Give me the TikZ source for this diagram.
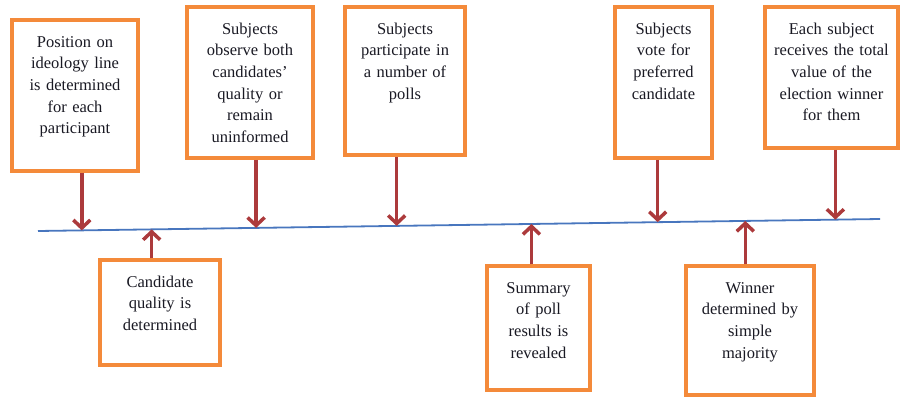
\documentclass[tikz,border=0pt]{standalone}
\usepackage{fontspec}
\setmainfont{Liberation Serif}
\usetikzlibrary{calc, positioning, arrows.meta}
\definecolor{boxorange}{RGB}{244,138,58}
\definecolor{arrowred}{RGB}{172,58,60}
\definecolor{lineblue}{RGB}{72,118,190}
\definecolor{textdark}{RGB}{25,25,35}

\tikzset{
  evbox/.style={draw=boxorange, line width=3.5pt, fill=white, align=center,
    inner xsep=4pt, inner ysep=16pt, text height=11pt, text=textdark,
    font=\fontsize{16.5}{21.7}\selectfont},
  evarrow/.style={draw=arrowred, line width=3.5pt,
    -{Straight Barb[length=8pt,width=17pt]}},
  timeline/.style={draw=lineblue, line width=1.8pt}
}

\begin{document}
\begin{tikzpicture}[x=1pt, y=-1pt]
\useasboundingbox (0,0) rectangle (901,399);

% time line
\coordinate (ls) at (38,231);
\coordinate (le) at (880,219);
\draw[timeline] (ls) -- (le);

% boxes above the line
\node[evbox, text width=118pt, text depth=108pt] (b1) at (75,95.5)
  {Position on\\ideology line\\is determined\\for each\\participant};
\node[evbox, text width=118pt, text depth=108pt] (b2) at (250,82.5)
  {Subjects\\observe both\\candidates'\\quality or\\remain\\uninformed};
\node[evbox, text width=112pt, text depth=105pt] (b3) at (405,81)
  {Subjects\\participate in\\a number of\\polls};
\node[evbox, text width=89pt, text depth=108pt] (b4) at (663.5,82.5)
  {Subjects\\vote for\\preferred\\candidate};
\node[evbox, text width=125pt, text depth=98pt] (b5) at (831.5,77.5)
  {Each subject\\receives the total\\value of the\\election winner\\for them};

% boxes below the line
\node[evbox, text width=112pt, text depth=62pt] (b6) at (160,312.5)
  {Candidate\\quality is\\determined};
\node[evbox, text width=95pt, text depth=81pt] (b7) at (538.5,328)
  {Summary\\of poll\\results is\\revealed};
\node[evbox, text width=120pt, text depth=86pt] (b8) at (750,330.5)
  {Winner\\determined by\\simple\\majority};

% points on the line
\coordinate (t1) at ($(ls)!0.052!(le)$);
\coordinate (t2) at ($(ls)!0.259!(le)$);
\coordinate (t3) at ($(ls)!0.426!(le)$);
\coordinate (t4) at ($(ls)!0.736!(le)$);
\coordinate (t5) at ($(ls)!0.947!(le)$);
\coordinate (t6) at ($(ls)!0.135!(le)$);
\coordinate (t7) at ($(ls)!0.586!(le)$);
\coordinate (t8) at ($(ls)!0.840!(le)$);

\foreach \b/\t in {b1/t1, b2/t2, b3/t3, b4/t4, b5/t5}
  \draw[evarrow] (\b.south -| \t) -- (\t);
\foreach \b/\t in {b6/t6, b7/t7, b8/t8}
  \draw[evarrow] (\b.north -| \t) -- (\t);
\end{tikzpicture}
\end{document}
